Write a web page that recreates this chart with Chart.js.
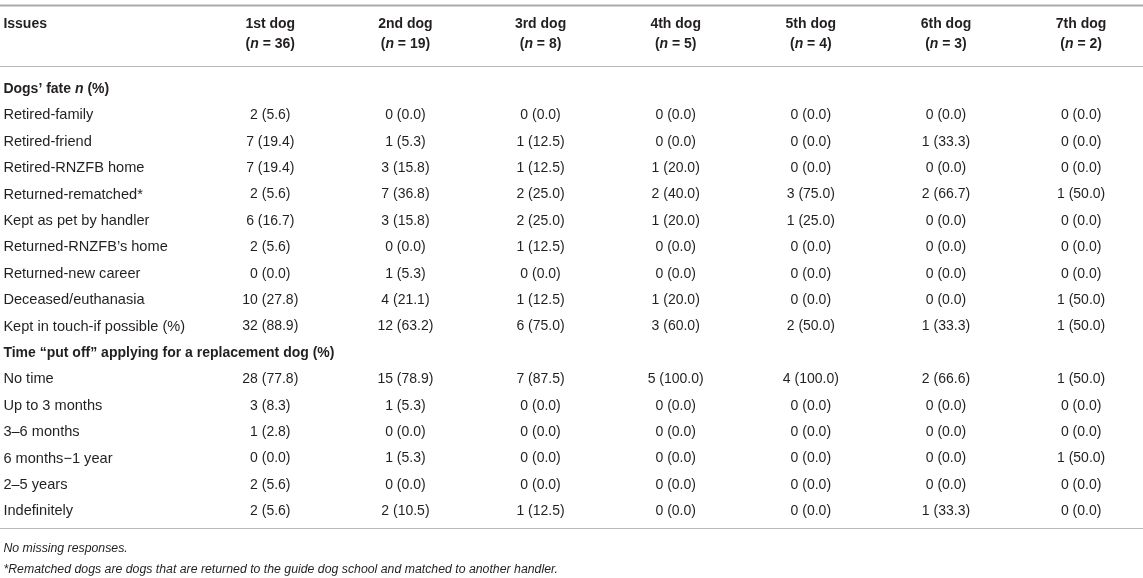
<!DOCTYPE html>
<html>
<head>
<meta charset="utf-8">
<script src="https://cdn.jsdelivr.net/npm/chart.js@4.4.0/dist/chart.umd.min.js"></script>
<style>
  body { margin: 0; background: #fff; }
  #wrap { width: 1143px; height: 578px; }
</style>
</head>
<body>
<div id="wrap"><canvas id="tableChart"></canvas></div>
<script>
const dogLabels = ["1st dog", "2nd dog", "3rd dog", "4th dog", "5th dog", "6th dog", "7th dog"];
const dogSizes = [36, 19, 8, 5, 4, 3, 2];

const fateTitle = "Dogs’ fate";
const fateLabels = [
  "Retired-family",
  "Retired-friend",
  "Retired-RNZFB home",
  "Returned-rematched*",
  "Kept as pet by handler",
  "Returned-RNZFB’s home",
  "Returned-new career",
  "Deceased/euthanasia",
  "Kept in touch-if possible (%)",
];
const fateCounts = [
  [2, 0, 0, 0, 0, 0, 0],
  [7, 1, 1, 0, 0, 1, 0],
  [7, 3, 1, 1, 0, 0, 0],
  [2, 7, 2, 2, 3, 2, 1],
  [6, 3, 2, 1, 1, 0, 0],
  [2, 0, 1, 0, 0, 0, 0],
  [0, 1, 0, 0, 0, 0, 0],
  [10, 4, 1, 1, 0, 0, 1],
  [32, 12, 6, 3, 2, 1, 1],
];
const fatePcts = [
  [5.6, 0.0, 0.0, 0.0, 0.0, 0.0, 0.0],
  [19.4, 5.3, 12.5, 0.0, 0.0, 33.3, 0.0],
  [19.4, 15.8, 12.5, 20.0, 0.0, 0.0, 0.0],
  [5.6, 36.8, 25.0, 40.0, 75.0, 66.7, 50.0],
  [16.7, 15.8, 25.0, 20.0, 25.0, 0.0, 0.0],
  [5.6, 0.0, 12.5, 0.0, 0.0, 0.0, 0.0],
  [0.0, 5.3, 0.0, 0.0, 0.0, 0.0, 0.0],
  [27.8, 21.1, 12.5, 20.0, 0.0, 0.0, 50.0],
  [88.9, 63.2, 75.0, 60.0, 50.0, 33.3, 50.0],
];

const timeTitle = "Time “put off” applying for a replacement dog (%)";
const timeLabels = [
  "No time",
  "Up to 3 months",
  "3–6 months",
  "6 months−1 year",
  "2–5 years",
  "Indefinitely",
];
const timeCounts = [
  [28, 15, 7, 5, 4, 2, 1],
  [3, 1, 0, 0, 0, 0, 0],
  [1, 0, 0, 0, 0, 0, 0],
  [0, 1, 0, 0, 0, 0, 1],
  [2, 0, 0, 0, 0, 0, 0],
  [2, 2, 1, 0, 0, 1, 0],
];
const timePcts = [
  [77.8, 78.9, 87.5, 100.0, 100.0, 66.6, 50.0],
  [8.3, 5.3, 0.0, 0.0, 0.0, 0.0, 0.0],
  [2.8, 0.0, 0.0, 0.0, 0.0, 0.0, 0.0],
  [0.0, 5.3, 0.0, 0.0, 0.0, 0.0, 50.0],
  [5.6, 0.0, 0.0, 0.0, 0.0, 0.0, 0.0],
  [5.6, 10.5, 12.5, 0.0, 0.0, 33.3, 0.0],
];

const footnotes = [
  "No missing responses.",
  "*Rematched dogs are dogs that are returned to the guide dog school and matched to another handler.",
];

// row layout (y scale units, one unit per table row)
const FONT = '"Liberation Sans", Arial, sans-serif';
const TEXT = "#231f20";
const labelX = -0.975;
const headY = [-2.46, -1.7];
const ruleY = [-3.2, -0.87, 16.63];
const footY = [17.39, 18.22];

// one scatter point per cell, text is drawn at the point
const cells = [];
fateCounts.forEach((row, r) => {
  row.forEach((v, c) => {
    cells.push({ x: c + 1, y: r + 1, text: v + " (" + fatePcts[r][c].toFixed(1) + ")" });
  });
});
timeCounts.forEach((row, r) => {
  row.forEach((v, c) => {
    cells.push({ x: c + 1, y: r + 11, text: v + " (" + timePcts[r][c].toFixed(1) + ")" });
  });
});

function drawRuns(ctx, runs, x, y, align) {
  let total = 0;
  runs.forEach((run) => {
    ctx.font = run.font;
    total += ctx.measureText(run.text).width;
  });
  let cx = align === "center" ? x - total / 2 : x;
  ctx.textAlign = "left";
  runs.forEach((run) => {
    ctx.font = run.font;
    ctx.fillText(run.text, cx, y);
    cx += ctx.measureText(run.text).width;
  });
}

const tablePlugin = {
  id: "tableText",
  afterDatasetsDraw(chart) {
    const ctx = chart.ctx;
    const xs = chart.scales.x;
    const ys = chart.scales.y;
    const left = chart.chartArea.left;
    const right = chart.chartArea.right;
    const bold = "bold 14px " + FONT;
    const boldItalic = "italic bold 14px " + FONT;
    const label = "14.6px " + FONT;
    const plain = "14px " + FONT;

    ctx.save();
    ctx.fillStyle = TEXT;
    ctx.textBaseline = "middle";

    // rules
    ruleY.forEach((v, i) => {
      const py = Math.round(ys.getPixelForValue(v)) + 0.5;
      ctx.strokeStyle = i === 0 ? "#a7a9ac" : "#b7b9bb";
      ctx.lineWidth = i === 0 ? 2 : 1.2;
      ctx.beginPath();
      ctx.moveTo(left, py);
      ctx.lineTo(right, py);
      ctx.stroke();
    });

    // header
    const lx = xs.getPixelForValue(labelX);
    drawRuns(ctx, [{ text: "Issues", font: bold }], lx, ys.getPixelForValue(headY[0]), "left");
    dogLabels.forEach((lab, c) => {
      const px = xs.getPixelForValue(c + 1);
      drawRuns(ctx, [{ text: lab, font: bold }], px, ys.getPixelForValue(headY[0]), "center");
      drawRuns(ctx, [
        { text: "(", font: bold },
        { text: "n", font: boldItalic },
        { text: " = " + dogSizes[c] + ")", font: bold },
      ], px, ys.getPixelForValue(headY[1]), "center");
    });

    // section titles and row labels
    drawRuns(ctx, [
      { text: fateTitle + " ", font: bold },
      { text: "n", font: boldItalic },
      { text: " (%)", font: bold },
    ], lx, ys.getPixelForValue(0), "left");
    fateLabels.forEach((lab, r) => {
      drawRuns(ctx, [{ text: lab, font: label }], lx, ys.getPixelForValue(r + 1), "left");
    });
    drawRuns(ctx, [{ text: timeTitle, font: bold }], lx, ys.getPixelForValue(10), "left");
    timeLabels.forEach((lab, r) => {
      drawRuns(ctx, [{ text: lab, font: label }], lx, ys.getPixelForValue(r + 11), "left");
    });

    // cell values
    const meta = chart.getDatasetMeta(0);
    meta.data.forEach((pt, i) => {
      drawRuns(ctx, [{ text: cells[i].text, font: plain }], pt.x, pt.y, "center");
    });

    // footnotes
    footnotes.forEach((t, i) => {
      drawRuns(ctx, [{ text: t, font: "italic 12.3px " + FONT }], lx, ys.getPixelForValue(footY[i]), "left");
    });
    ctx.restore();
  },
};

new Chart(document.getElementById("tableChart"), {
  type: "scatter",
  data: {
    datasets: [
      {
        data: cells,
        pointRadius: 0,
        pointHoverRadius: 0,
      },
    ],
  },
  options: {
    responsive: true,
    maintainAspectRatio: false,
    animation: false,
    layout: { padding: 0 },
    plugins: { legend: { display: false }, tooltip: { enabled: false } },
    scales: {
      x: { type: "linear", display: false, min: -1, max: 7.458 },
      y: { type: "linear", display: false, reverse: true, min: -3.371, max: 18.523 },
    },
  },
  plugins: [tablePlugin],
});
</script>
</body>
</html>
